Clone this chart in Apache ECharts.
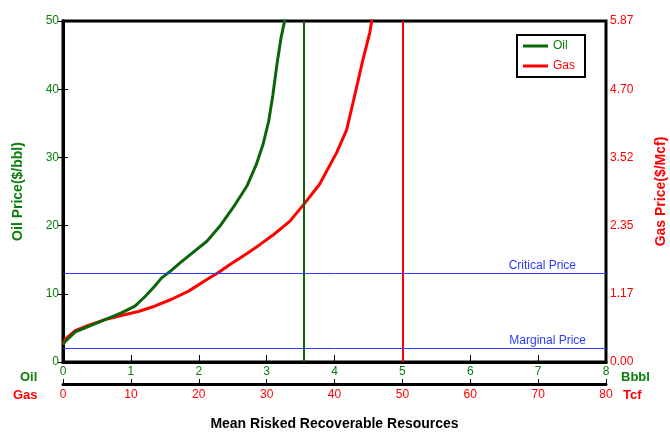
<!doctype html>
<html>

<head>
    <meta charset="utf-8">
    <title>Price vs Resources</title>
    <script type="text/javascript" src="https://cdn.jsdelivr.net/npm/echarts@6/dist/echarts.min.js"></script>
</head>

<body style="margin:0;padding:0;background:#fff">
    <div id="tb" style="width:670px;height:433px"></div>
    <script>
        // 油 (Bbbl, $/bbl)
        var oilVolume = [0, 0.03, 0.18, 0.37, 0.62, 0.86, 1.06, 1.21, 1.35, 1.45, 1.58, 1.72, 1.82, 2.12, 2.31, 2.51, 2.71, 2.85, 2.95, 3.03, 3.09, 3.15, 3.21, 3.26, 3.28];
        var oilPrice = [2.5, 3.0, 4.4, 5.2, 6.2, 7.2, 8.2, 9.6, 11.1, 12.3, 13.3, 14.5, 15.3, 17.7, 19.9, 22.7, 25.8, 29.0, 32.0, 35.3, 39.0, 43.5, 47.4, 49.8, 51];
        // 气 (Tcf, $/Mcf)
        var gasVolume = [0, 0.3, 1.8, 3.7, 6.2, 8.6, 11.1, 13.5, 16.0, 18.5, 21.2, 22.9, 24.6, 27.0, 29.0, 31.0, 33.4, 35.6, 37.8, 40.3, 41.8, 43.0, 44.2, 45.2, 45.6];
        var gasPrice = [0.31, 0.39, 0.54, 0.63, 0.73, 0.80, 0.87, 0.96, 1.08, 1.22, 1.42, 1.54, 1.68, 1.86, 2.02, 2.19, 2.42, 2.73, 3.06, 3.60, 4.00, 4.60, 5.21, 5.67, 5.95];

        var criticalPrice = 13;
        var marginalPrice = 2;
        var oilLimit = 3.55;
        var gasLimit = 50;

        var oilTicks = { min: 0, max: 8, interval: 1 };
        var gasTicks = { min: 0, max: 80, interval: 10 };
        var oilPriceTicks = { min: 0, max: 50, interval: 10 };
        var gasPriceTicks = { min: 0, max: 5.87, interval: 1.174 };

        var GREEN = '#0a7d0a';
        var LINEGREEN = '#0b650b';
        var RED = '#ff0000';
        var BLUE = '#2a3cff';
        var FONT = 'Liberation Sans, Arial, sans-serif';

        function pairs(xs, ys) {
            return xs.map(function (x, i) { return [x, ys[i]]; });
        }

        var chart = echarts.init(document.getElementById('tb'));
        chart.setOption({
            backgroundColor: '#fff',
            animation: false,
            textStyle: { fontFamily: FONT },
            grid: {
                left: 63, right: 64, top: 21, bottom: 71,
                outerBoundsMode: 'none',
                containLabel: false,
                show: true, borderColor: '#000', borderWidth: 3, backgroundColor: '#fff'
            },
            legend: {
                left: 517, top: 35,
                orient: 'vertical',
                icon: 'rect',
                itemWidth: 25, itemHeight: 3, itemGap: 8,
                padding: [5, 10, 5, 6],
                borderColor: '#000', borderWidth: 2,
                backgroundColor: '#fff',
                textStyle: { fontSize: 12, fontFamily: FONT },
                data: [
                    { name: 'Oil', textStyle: { color: GREEN } },
                    { name: 'Gas', textStyle: { color: RED } }
                ]
            },
            graphic: [
                { type: 'text', left: 20, top: 371, style: { text: 'Oil', fill: GREEN, font: 'bold 13px ' + FONT } },
                { type: 'text', left: 13, top: 389, style: { text: 'Gas', fill: RED, font: 'bold 13px ' + FONT } },
                { type: 'text', left: 621, top: 371, style: { text: 'Bbbl', fill: GREEN, font: 'bold 13px ' + FONT } },
                { type: 'text', left: 623, top: 389, style: { text: 'Tcf', fill: RED, font: 'bold 13px ' + FONT } }
            ],
            xAxis: [{
                type: 'value',
                position: 'bottom',
                min: oilTicks.min, max: oilTicks.max, interval: oilTicks.interval,
                axisLine: { lineStyle: { color: '#000', width: 3 } },
                axisTick: { show: true, inside: true, length: 7, lineStyle: { color: '#000', width: 1 } },
                axisLabel: { color: GREEN, fontSize: 12, margin: 4 },
                splitLine: { show: false }
            }, {
                type: 'value',
                position: 'bottom',
                offset: 22,
                min: gasTicks.min, max: gasTicks.max, interval: gasTicks.interval,
                axisLine: { show: true, onZero: false, lineStyle: { color: '#000', width: 3 } },
                axisTick: { show: true, inside: true, length: 5, lineStyle: { color: '#000', width: 1 } },
                axisLabel: { color: RED, fontSize: 12, margin: 5 },
                splitLine: { show: false },
                name: 'Mean Risked Recoverable Resources',
                nameLocation: 'middle',
                nameGap: 33,
                nameTextStyle: { color: '#000', fontSize: 14, fontWeight: 'bold', fontFamily: FONT }
            }],
            yAxis: [{
                type: 'value',
                position: 'left',
                min: oilPriceTicks.min, max: oilPriceTicks.max, interval: oilPriceTicks.interval,
                axisLine: { show: true, lineStyle: { color: '#000', width: 3 } },
                axisTick: { show: true, length: 5, lineStyle: { color: '#000', width: 1 } },
                axisLabel: { color: GREEN, fontSize: 12, margin: 4 },
                splitLine: { show: false },
                name: 'Oil Price($/bbl)',
                nameLocation: 'middle',
                nameRotate: 90,
                nameGap: 38,
                nameTextStyle: { color: GREEN, fontSize: 14, fontWeight: 'bold', fontFamily: FONT }
            }, {
                type: 'value',
                position: 'right',
                min: gasPriceTicks.min, max: gasPriceTicks.max, interval: gasPriceTicks.interval,
                axisLine: { show: true, lineStyle: { color: '#000', width: 3 } },
                axisTick: { show: true, length: 5, lineStyle: { color: '#000', width: 1 } },
                axisLabel: {
                    color: RED, fontSize: 12, margin: 4,
                    formatter: function (v) { return v.toFixed(2); }
                },
                splitLine: { show: false },
                name: 'Gas Price($/Mcf)',
                nameLocation: 'middle',
                nameRotate: 90,
                nameGap: 48,
                nameTextStyle: { color: RED, fontSize: 14, fontWeight: 'bold', fontFamily: FONT }
            }],
            series: [{
                name: 'Oil',
                type: 'line',
                xAxisIndex: 0, yAxisIndex: 0,
                showSymbol: false,
                symbol: 'none',
                color: LINEGREEN,
                lineStyle: { color: LINEGREEN, width: 3 },
                data: pairs(oilVolume, oilPrice),
                z: 3,
                markLine: {
                    silent: true,
                    symbol: 'none',
                    data: [
                        { xAxis: oilLimit, lineStyle: { color: LINEGREEN, width: 2, type: 'solid' }, label: { show: false } }
                    ]
                }
            }, {
                name: 'Gas',
                type: 'line',
                xAxisIndex: 1, yAxisIndex: 1,
                showSymbol: false,
                symbol: 'none',
                color: RED,
                lineStyle: { color: RED, width: 3 },
                data: pairs(gasVolume, gasPrice),
                z: 2,
                markLine: {
                    silent: true,
                    symbol: 'none',
                    data: [
                        { xAxis: gasLimit, lineStyle: { color: RED, width: 2, type: 'solid' }, label: { show: false } }
                    ]
                }
            }, {
                name: 'Price levels',
                type: 'line',
                xAxisIndex: 0, yAxisIndex: 0,
                data: [],
                z: 1,
                markLine: {
                    silent: true,
                    symbol: 'none',
                    lineStyle: { color: BLUE, width: 1, type: 'solid', opacity: 1 },
                    label: { show: true, position: 'insideEndTop', color: BLUE, fontSize: 12, distance: 2 },
                    data: [
                        { yAxis: criticalPrice, label: { formatter: 'Critical Price', padding: [0, 28, 0, 0] } },
                        { yAxis: marginalPrice, label: { formatter: 'Marginal Price', padding: [0, 18, 0, 0] } }
                    ]
                }
            }]
        });
    </script>
</body>

</html>
